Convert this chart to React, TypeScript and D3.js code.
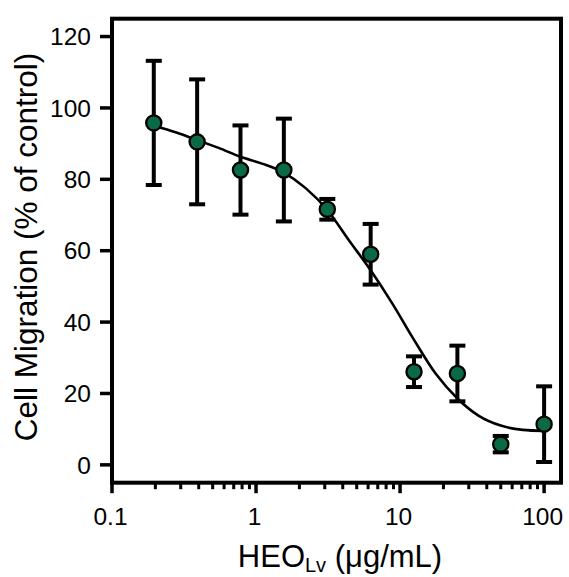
import React from "react";
import * as d3 from "d3";

const concentrations = [0.195, 0.39, 0.78, 1.56, 3.125, 6.25, 12.5, 25, 50, 100];
const migration = [95.8, 90.5, 82.6, 82.6, 71.6, 59.0, 26.1, 25.6, 5.8, 11.4];
const errorSD = [17.4, 17.5, 12.5, 14.4, 2.9, 8.5, 4.3, 7.8, 2.3, 10.6];

const fitX = [0.195, 0.28, 0.39, 0.55, 0.78, 1.1, 1.56, 2.2, 3.125, 4.4, 6.25, 8.8, 12.5, 17.7, 25, 35, 50, 71, 100];
const fitY = [95.0, 93.1, 91.0, 88.8, 86.3, 84.4, 81.9, 77.6, 71.4, 63.0, 54.5, 45.3, 35.0, 25.5, 18.6, 13.8, 11.0, 9.8, 9.5];

const yTicks = [0, 20, 40, 60, 80, 100, 120];
const xMajorTicks = [0.1, 1, 10, 100];
const xTickLabels = ["0.1", "1", "10", "100"];

const W = 569;
const H = 577;
const left = 112;
const right = 561;
const top = 18.7;
const bottom = 482.7;
const FONT = "'Liberation Sans', Arial, Helvetica, sans-serif";

export default function App() {
  const x = d3.scaleLog().domain([0.1, 131]).range([left, right]);
  const y = d3.scaleLinear().domain([-5, 125]).range([bottom, top]);

  const minorTicks = x.ticks().filter((t) => t <= 100 && !xMajorTicks.some((m) => Math.abs(m - t) < 1e-9));

  const fitLine = d3
    .line<number>()
    .x((_, i) => x(fitX[i]))
    .y((d) => y(d))
    .curve(d3.curveMonotoneX)(fitY) as string;

  return (
    <svg
      width={W}
      height={H}
      style={{ position: "absolute", left: 0, top: 0, background: "#fff" }}
      fontFamily={FONT}
    >
      <rect x={0} y={0} width={W} height={H} fill="#fff" />
      {/* frame */}
      <rect x={left} y={top} width={right - left} height={bottom - top} fill="none" stroke="#000" strokeWidth={4} />

      {/* y ticks */}
      {yTicks.map((t) => (
        <g key={"y" + t}>
          <line x1={left - 12} x2={left} y1={y(t)} y2={y(t)} stroke="#000" strokeWidth={3.5} />
          <text x={91} y={y(t)} dy="0.355em" textAnchor="end" fontSize={24.5} fill="#000">
            {t}
          </text>
        </g>
      ))}

      {/* x ticks */}
      {minorTicks.map((t, i) => (
        <line key={"m" + i} x1={x(t)} x2={x(t)} y1={bottom} y2={bottom + 6.5} stroke="#000" strokeWidth={3} />
      ))}
      {xMajorTicks.map((t, i) => (
        <g key={"M" + i}>
          <line x1={x(t)} x2={x(t)} y1={bottom} y2={bottom + 10.5} stroke="#000" strokeWidth={3.5} />
          <text x={x(t) - 1.5} y={525} textAnchor="middle" fontSize={24.5} fill="#000">
            {xTickLabels[i]}
          </text>
        </g>
      ))}

      {/* fit curve */}
      <path d={fitLine} fill="none" stroke="#000" strokeWidth={2.6} />

      {/* error bars */}
      {concentrations.map((c, i) => {
        const cx = x(c);
        const hi = y(migration[i] + errorSD[i]);
        const lo = y(migration[i] - errorSD[i]);
        return (
          <g key={"e" + i} stroke="#000" strokeWidth={4}>
            <line x1={cx} x2={cx} y1={hi} y2={lo} />
            <line x1={cx - 8} x2={cx + 8} y1={hi} y2={hi} />
            <line x1={cx - 8} x2={cx + 8} y1={lo} y2={lo} />
          </g>
        );
      })}

      {/* points */}
      {concentrations.map((c, i) => (
        <circle key={"p" + i} cx={x(c)} cy={y(migration[i])} r={7.6} fill="#0b6a46" stroke="#000" strokeWidth={2.3} />
      ))}

      {/* x title */}
      <text x={340} y={567} textAnchor="middle" fontSize={31} fill="#000">
        HEO
        <tspan fontSize={20} dy={5}>Lv</tspan>
        <tspan dy={-5}> (μg/mL)</tspan>
      </text>

      {/* y title */}
      <text
        transform={`translate(37, 247) rotate(-90)`}
        textAnchor="middle"
        fontSize={31.5}
        fill="#000"
      >
        Cell Migration (% of control)
      </text>
    </svg>
  );
}
